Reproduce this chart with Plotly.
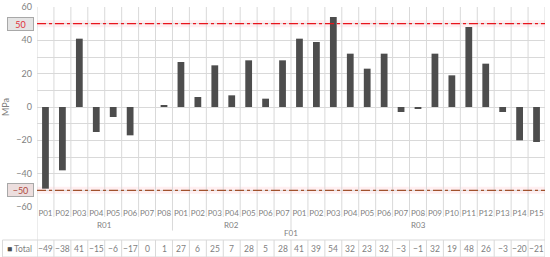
import plotly.graph_objects as go

# categories (three-level axis: F01 > R0x > P##)
fields = ["F01"]
regions = ["R01"] * 8 + ["R02"] * 7 + ["R03"] * 15
points = (
    [f"P{i:02d}" for i in range(1, 9)]
    + [f"P{i:02d}" for i in range(1, 8)]
    + [f"P{i:02d}" for i in range(1, 16)]
)
total = [-49, -38, 41, -15, -6, -17, 0, 1,
         27, 6, 25, 7, 28, 5, 28,
         41, 39, 54, 32, 23, 32, -3, -1, 32, 19, 48, 26, -3, -20, -21]
limits = [50, -50]
y_ticks = [-60, -40, -20, 0, 20, 40, 60]

FONT = "Lato"
GRAY = "#7f7f7f"
GRID = "#d9d9d9"
idx = list(range(len(points)))
n = len(points)

fig = go.Figure()
fig.add_trace(go.Bar(x=idx, y=total, width=0.4, marker_color="#4d4d4d",
                     marker_line_width=0, name="Total", showlegend=False))

# limit lines (with soft glow)
for lim, col in zip(limits, ["#e8141c", "#a0522d"]):
    fig.add_hline(y=lim, line=dict(color="rgba(255,120,140,0.12)", width=7), layer="below")
    fig.add_hline(y=lim, line=dict(color=col, width=1.3, dash="dashdot"))
    fig.add_annotation(x=0, xref="paper", xanchor="right", xshift=-3, y=lim, yref="y",
                       yanchor="middle",
                       text=str(lim).replace("-", "−"), showarrow=False, width=23, height=10,
                       font=dict(family=FONT, size=9, color="#e0303a" if lim > 0 else "#b04a40"),
                       bgcolor="#e4e4e4" if lim > 0 else "#ecdede", bordercolor="#a8a8a8",
                       borderwidth=1, borderpad=1)

# vertical separators: categories, region boundaries, outer edges
bounds = [i - 0.5 for i in range(n + 1)]
for j, b in enumerate(bounds):
    if j == 0 or j == n:
        y0 = -0.25
    elif regions[j] != regions[j - 1]:
        y0 = -0.118
    else:
        y0 = -0.05
    fig.add_shape(type="line", xref="x", yref="paper", x0=b, x1=b, y0=y0, y1=1,
                  line=dict(color=GRID, width=1), layer="below")

# region and field labels
for r in dict.fromkeys(regions):
    pos = [i for i in idx if regions[i] == r]
    fig.add_annotation(x=(pos[0] + pos[-1]) / 2, y=-0.09, xref="x", yref="paper",
                       yanchor="middle", text=r, showarrow=False,
                       font=dict(family=FONT, size=8, color=GRAY))
fig.add_annotation(x=(idx[0] + idx[-1]) / 2, y=-0.13, xref="x", yref="paper",
                   yanchor="middle", text=fields[0], showarrow=False,
                   font=dict(family=FONT, size=8, color=GRAY))

# data table row
t_top, t_bot = -0.165, -0.25
for i, v in enumerate(total):
    fig.add_annotation(x=i, y=(t_top + t_bot) / 2, xref="x", yref="paper", yanchor="middle",
                       text=str(v).replace("-", "−"), showarrow=False,
                       font=dict(family=FONT, size=8.5, color=GRAY))
    fig.add_shape(type="line", xref="x", yref="paper", x0=i - 0.5, x1=i - 0.5,
                  y0=t_bot, y1=t_top, line=dict(color=GRID, width=1))
fig.add_annotation(x=0, xref="paper", xanchor="right", xshift=-3, y=(t_top + t_bot) / 2,
                   yref="paper", yanchor="middle",
                   text="<span style='color:#4d4d4d'>■</span> Total",
                   showarrow=False, font=dict(family=FONT, size=8.5, color=GRAY))
for yy in [t_top, t_bot]:
    fig.add_shape(type="line", xref="paper", yref="paper", x0=-0.068, x1=1, y0=yy, y1=yy,
                  line=dict(color=GRID, width=1))
fig.add_shape(type="line", xref="paper", yref="paper", x0=-0.068, x1=-0.068,
              y0=t_bot, y1=t_top, line=dict(color=GRID, width=1))

fig.update_xaxes(range=[-0.5, n - 0.5], tickvals=idx, ticktext=points, showgrid=False,
                 zeroline=False, ticks="", tickangle=0, automargin=False,
                 tickfont=dict(family=FONT, size=8, color=GRAY), fixedrange=True)
fig.update_yaxes(range=[-60, 60], tickvals=y_ticks, showgrid=True, gridcolor=GRID,
                 minor=dict(dtick=10, tick0=0, showgrid=True, gridcolor=GRID),
                 zeroline=True, zerolinecolor=GRID, zerolinewidth=1,
                 ticks="", ticklabelstandoff=4, automargin=False,
                 tickfont=dict(family=FONT, size=9, color=GRAY),
                 title=dict(text="MPa", font=dict(family=FONT, size=9, color=GRAY), standoff=5),
                 showline=False)
fig.update_layout(width=550, height=257, margin=dict(l=37, r=5, t=7, b=50, autoexpand=False),
                  plot_bgcolor="white", paper_bgcolor="white", bargap=0.6)

fig.write_html("out.html", config={"displayModeBar": False},
               post_script="document.body.style.margin='0';")
